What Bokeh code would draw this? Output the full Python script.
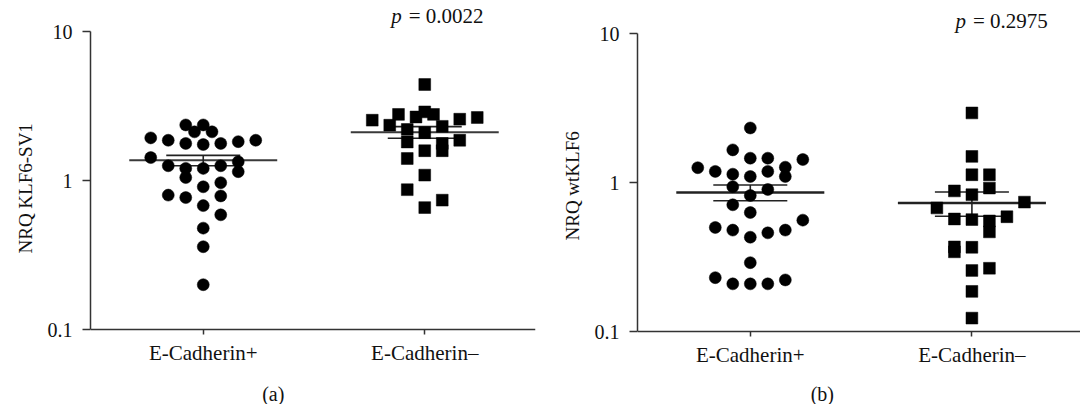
from bokeh.plotting import figure
from bokeh.layouts import row
from bokeh.models import FixedTicker, Label, CustomJSTickFormatter, Title
from bokeh.embed import file_html
from bokeh.resources import INLINE

# ---------------- data ----------------
categories = ["E-Cadherin+", "E-Cadherin\u2013"]

# panel (a): NRQ KLF6-SV1
a_pos_vals = [2.37, 2.37, 2.13, 2.13, 1.94, 1.87, 1.78, 1.75, 1.78, 1.83, 1.87,
              1.43, 1.26, 1.21, 1.21, 1.26, 1.34, 1.15, 1.05, 0.91, 0.97,
              0.80, 0.77, 0.79, 0.68, 0.59, 0.48, 0.36, 0.20]
a_pos_step = [-1, 0, -0.5, 0.5, -3, -2, -1, 0, 1, 2, 3,
              -3, -2, -1, 0, 1, 2, 2, -1, 0, 1,
              -2, -1, 1, 0, 1, 0, 0, 0]
a_neg_vals = [4.43, 2.55, 2.79, 2.68, 2.90, 2.79, 2.59, 2.66, 2.36, 2.21, 2.10,
              2.32, 1.82, 1.87, 1.78, 1.59, 1.59, 1.41, 1.09, 0.87, 0.74, 0.66]
a_neg_step = [0, -3, -1.5, -0.5, 0, 0.5, 2, 3, -2, -1, 0,
              1, -1, 2, 1, 0, 1, -1, 0, -1, 1, 0]
a_means = [1.37, 2.12]
a_sems = [0.11, 0.19]
a_pvalue = "0.0022"

# panel (b): NRQ wtKLF6
b_pos_vals = [2.33, 1.66, 1.46, 1.46, 1.43, 1.26, 1.19, 1.14, 1.10, 1.19, 1.27,
              1.10, 0.94, 0.90, 0.82, 0.71, 0.63, 0.50, 0.48, 0.43, 0.46,
              0.48, 0.56, 0.29, 0.23, 0.209, 0.209, 0.209, 0.222]
b_pos_step = [0, -1, 0, 1, 3, -3, -2, -1, 0, 1, 2,
              2, -1, 1, 0, -1, 0, -2, -1, 0, 1,
              2, 3, 0, -2, -1, 0, 1, 2]
b_neg_vals = [2.94, 1.50, 1.13, 1.13, 0.88, 0.83, 0.92, 0.74, 0.676, 0.57, 0.565,
              0.59, 0.553, 0.467, 0.37, 0.343, 0.368, 0.266, 0.257, 0.186, 0.123]
b_neg_step = [0, 0, 0, 1, -1, 0, 1, 3, -2, -1, 0,
              2, 1, 1, -1, -1, 0, 1, 0, 0, 0]
b_means = [0.86, 0.73]
b_sems = [0.105, 0.135]
b_pvalue = "0.2975"

# ---------------- style ----------------
FONT = "Liberation Serif"
TXT = "#111111"
STEP = 0.079          # horizontal spacing of scattered points (category units)
MEAN_HW = 0.334       # half width of mean line
SEM_HW = 0.167        # half width of SEM whiskers
AXIS_COL = "#333333"
HEIGHT = 404


def make_panel(width, b_left, b_right, axis_px, decade_px, x_end, ylabel,
               ylab_standoff, ylab_bottom, pos_vals, pos_step, neg_vals, neg_step,
               means, sems, pval, p_xoff, p_yoff, caption, cap_xoff, cap_yoff,
               mean_lw, mean_col):
    # frame covers the full canvas height; the 0.1 line sits axis_px from the top
    y_start = 10 ** (-1 - (HEIGHT - axis_px) / decade_px)
    y_end = 10 ** (-1 + axis_px / decade_px)
    p = figure(width=width, height=HEIGHT, x_range=(-0.509, x_end), y_range=(y_start, y_end),
               y_axis_type="log", output_backend="svg", toolbar_location=None,
               min_border_left=b_left, min_border_right=b_right, min_border_top=0,
               min_border_bottom=0)
    p.outline_line_color = None
    p.grid.visible = False
    p.background_fill_color = "white"
    p.border_fill_color = "white"

    # axes
    p.yaxis.bounds = (0.1, 10)
    p.yaxis.ticker = FixedTicker(ticks=[0.1, 1, 10])
    p.yaxis.formatter = CustomJSTickFormatter(code="return String(tick);")
    p.xaxis.fixed_location = 0.1
    p.xaxis.ticker = FixedTicker(ticks=[0, 1])
    p.xaxis.major_label_overrides = {0: categories[0], 1: categories[1]}
    for ax in (p.xaxis, p.yaxis):
        ax.axis_line_color = AXIS_COL
        ax.axis_line_width = 1.5
        ax.major_tick_line_color = AXIS_COL
        ax.major_tick_line_width = 1.5
        ax.major_tick_in = 0
        ax.minor_tick_in = 0
        ax.minor_tick_out = 0
        ax.major_label_text_font = FONT
        ax.major_label_text_color = TXT
        ax.major_label_text_font_size = "20px"
    p.xaxis.major_label_text_font_size = "21px"
    p.yaxis.major_tick_out = 8
    p.yaxis.major_label_standoff = 10
    p.xaxis.major_tick_out = 5
    p.xaxis.major_label_standoff = 6

    # y-axis title (side title so it can be placed on the 0.1-10 span)
    p.add_layout(Title(text=ylabel, align="left", offset=HEIGHT - ylab_bottom,
                       standoff=ylab_standoff, text_font=FONT, text_font_style="normal",
                       text_font_size="19px", text_color=TXT), "left")

    # mean and SEM
    cx = [0, 1]
    lo = [m - s for m, s in zip(means, sems)]
    hi = [m + s for m, s in zip(means, sems)]
    p.segment(x0=[c - MEAN_HW for c in cx], x1=[c + MEAN_HW for c in cx], y0=means, y1=means,
              line_color=mean_col, line_width=mean_lw)
    p.segment(x0=[c - SEM_HW for c in cx], x1=[c + SEM_HW for c in cx], y0=hi, y1=hi,
              line_color="#222222", line_width=1.6)
    p.segment(x0=[c - SEM_HW for c in cx], x1=[c + SEM_HW for c in cx], y0=lo, y1=lo,
              line_color="#222222", line_width=1.6)
    p.segment(x0=cx, x1=cx, y0=lo, y1=hi, line_color="#222222", line_width=1.6)

    # points
    p.scatter(x=[0 + s * STEP for s in pos_step], y=pos_vals, marker="circle", size=12,
              fill_color="black", line_color="black", line_width=0.5)
    p.scatter(x=[1 + s * STEP for s in neg_step], y=neg_vals, marker="square", size=11.8,
              fill_color="black", line_color="black", line_width=0.5)

    # p-value text
    p.add_layout(Label(x=1, y=10, x_offset=p_xoff, y_offset=p_yoff, text="p",
                       text_font=FONT, text_font_style="italic", text_font_size="21px",
                       text_align="right", text_baseline="middle", text_color=TXT))
    p.add_layout(Label(x=1, y=10, x_offset=p_xoff + 7, y_offset=p_yoff,
                       text="= " + pval, text_font=FONT, text_font_size="21px",
                       text_align="left", text_baseline="middle", text_color=TXT))
    # caption
    p.add_layout(Label(x=0, y=0.1, x_offset=cap_xoff, y_offset=cap_yoff, text=caption,
                       text_font=FONT, text_font_size="20px", text_align="center",
                       text_baseline="middle", text_color=TXT))
    return p


pa = make_panel(540, 90, 5, 329, 148.8, 1.5, "NRQ KLF6-SV1", 18, 253,
                a_pos_vals, a_pos_step, a_neg_vals, a_neg_step, a_means, a_sems,
                a_pvalue, -23, 16, "(a)", 70, -64, 2, "#3a3a3a")
pb = make_panel(540, 97, 0, 331, 148.85, 1.49, "NRQ wtKLF6", 17, 240,
                b_pos_vals, b_pos_step, b_neg_vals, b_neg_step, b_means, b_sems,
                b_pvalue, -6, 13, "(b)", 72, -62, 2.5, "#222222")

layout = row(pa, pb)
open("out.html", "w").write(file_html(layout, INLINE))
